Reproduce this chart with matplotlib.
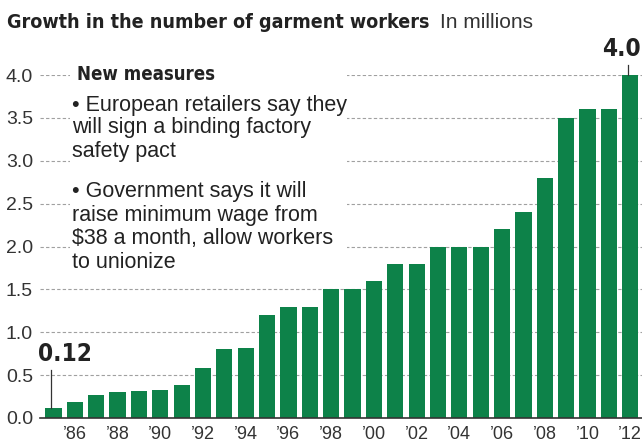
import matplotlib
matplotlib.use("Agg")
import matplotlib.pyplot as plt
from matplotlib.patches import Rectangle
from matplotlib import font_manager
from matplotlib.font_manager import FontProperties

# Garment workers in Bangladesh, millions, 1985-2012
years = list(range(1985, 2013))
workers = [0.12, 0.19, 0.27, 0.30, 0.31, 0.33, 0.39, 0.58, 0.80, 0.82,
           1.20, 1.29, 1.30, 1.50, 1.50, 1.60, 1.80, 1.80, 2.00, 2.00,
           2.00, 2.20, 2.40, 2.80, 3.50, 3.60, 3.60, 4.00]
tick_years = list(range(1986, 2013, 2))
tick_labels = ["\u2019%02d" % (y % 100) for y in tick_years]
y_ticks = [0.0, 0.5, 1.0, 1.5, 2.0, 2.5, 3.0, 3.5, 4.0]

title = "Growth in the number of garment workers"
subtitle = "In millions"
note_head = "New measures"
note_lines = ["\u2022 European retailers say they",
              "will sign a binding factory",
              "safety pact",
              "\u2022 Government says it will",
              "raise minimum wage from",
              "$38 a month, allow workers",
              "to unionize"]

body = "Liberation Sans"


def condensed_bold():
    """Pick a narrow/condensed bold face if one is installed."""
    prefs = ["LiberationSansNarrow-Bold", "DejaVuSansCondensed-Bold",
             "NotoSans-CondensedBold", "Roboto_Condensed-Bold",
             "RobotoCondensed-Bold", "OpenSans-CondensedBold"]
    files = [f.fname for f in font_manager.fontManager.ttflist]
    for p in prefs:
        for fn in files:
            if p.lower() in fn.lower().replace(" ", ""):
                return FontProperties(fname=fn)
    for fn in files:
        low = fn.lower()
        if ("condensed" in low or "narrow" in low) and "bold" in low and "italic" not in low and "oblique" not in low:
            return FontProperties(fname=fn)
    return FontProperties(family=body, weight="bold")


COND = condensed_bold()


def cprops(size):
    fp = COND.copy()
    fp.set_size(size)
    return fp


GREEN = "#0d8249"
TXT = "#222222"
GREY = "#333333"

W, H = 642, 443
fig = plt.figure(figsize=(W / 100, H / 100), dpi=100)
fig.patch.set_facecolor("white")


def fx(px):
    return px / W


def fy(py):
    return 1 - py / H


# axes: left edge 40px, baseline 418px, 4.0 line at 75px
ax = fig.add_axes([fx(40), fy(418), fx(642) - fx(40), fy(75) - fy(418)])
x = list(range(len(years)))
ax.bar(x, workers, width=0.76, color=GREEN, zorder=3)
ax.set_xlim(-0.63, len(years) - 1 + 0.55)
ax.set_ylim(0, 4.0)

for s in ["top", "right", "left"]:
    ax.spines[s].set_visible(False)
ax.spines["bottom"].set_color(GREY)
ax.spines["bottom"].set_linewidth(1.2)
ax.spines["bottom"].set_zorder(4)

ax.set_yticks(y_ticks)
ax.set_yticklabels(["%.1f" % v for v in y_ticks], fontsize=14, color=GREY,
                   family=body)
ax.tick_params(axis="y", length=0, pad=5)
ax.set_xticks([years.index(y) for y in tick_years])
ax.set_xticklabels(tick_labels, fontsize=13, color=GREY, family=body)
ax.tick_params(axis="x", length=0, pad=6)

ax.yaxis.grid(True, linestyle=(0, (3, 2)), color="#a0a0a0", linewidth=0.8, zorder=1)
ax.set_axisbelow(True)

# white panel behind the notes
ax.add_patch(Rectangle((fx(70), fy(276)), fx(347) - fx(70), fy(62) - fy(276),
                       transform=fig.transFigure, facecolor="white",
                       edgecolor="none", zorder=2))

# value callouts
i0 = 0
ax.plot([i0 - 0.1, i0 - 0.1], [workers[i0], 0.56], color=GREY, lw=0.9,
        zorder=4, clip_on=False)
ax.text(-0.74, 0.61, "%.2f" % workers[i0], fontproperties=cprops(17.5),
        color=TXT, ha="left", va="bottom")
iN = len(workers) - 1
ax.plot([iN - 0.1, iN - 0.1], [workers[iN], workers[iN] + 0.12], color=GREY,
        lw=0.9, zorder=4, clip_on=False)
ax.text(0.997, workers[iN] + 0.16, "%.1f" % workers[iN], fontproperties=cprops(17.5),
        color=TXT, ha="right", va="bottom", clip_on=False,
        transform=ax.get_yaxis_transform())

# title
fig.text(fx(7), fy(22), title, fontproperties=cprops(14.1), color=TXT,
         ha="left", va="center")
fig.text(fx(440), fy(22), subtitle, fontsize=15, family=body, color=GREY,
         ha="left", va="center")

# notes
fig.text(fx(77), fy(75), note_head, fontproperties=cprops(13.4), color=TXT,
         ha="left", va="center", zorder=5)
note_y = [105, 128, 152, 192, 215, 239, 262]
for line, py in zip(note_lines, note_y):
    fig.text(fx(72), fy(py), line, fontsize=15.5, family=body, color=TXT,
             ha="left", va="center", zorder=5)

fig.savefig("out.png", dpi=100, facecolor="white")
